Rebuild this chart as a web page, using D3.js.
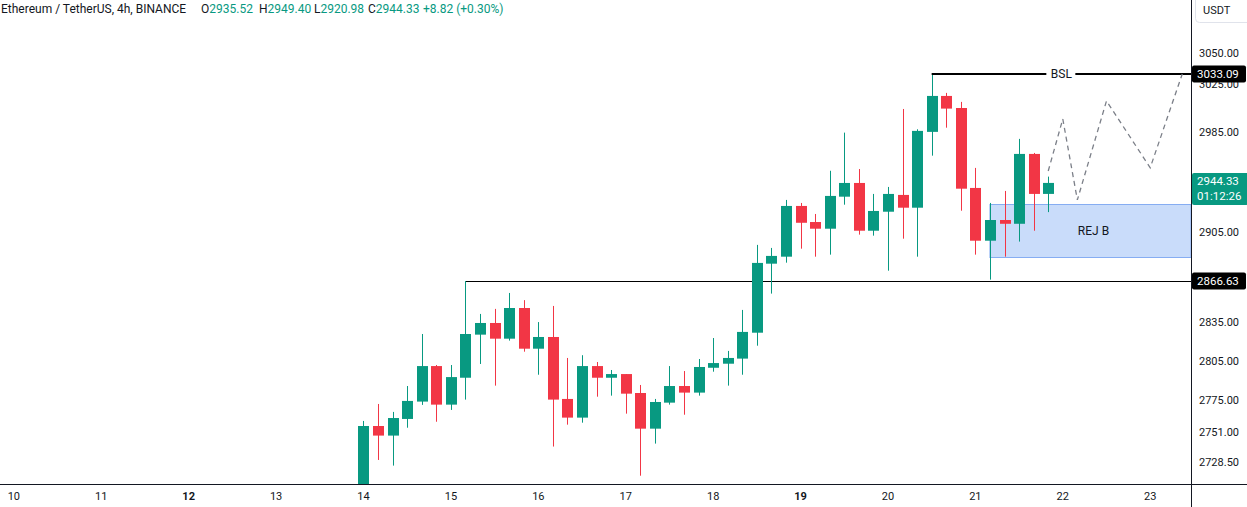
<!DOCTYPE html>
<html>
<head>
<meta charset="utf-8">
<style>
  body { margin: 0; background: #fff; }
  svg { display: block; font-family: Roboto, "Liberation Sans", sans-serif; }
</style>
<script src="https://cdn.jsdelivr.net/npm/d3@7"></script>
</head>
<body>
<svg id="chart"></svg>
<script>
// ETHUSDT 4h candles, starting Feb 14 00:00 UTC
const startTime = Date.UTC(2024, 1, 14, 0, 0);
const opens  = [2700, 2755.5, 2748.3, 2760.8, 2773.9, 2800.9, 2771.6, 2792.0, 2825.0, 2834.0, 2821.9, 2845.6,
                2814.2, 2823.2, 2775.9, 2761.8, 2800.9, 2792.0, 2794.8, 2780.4, 2753.5, 2773.1, 2785.7, 2780.7,
                2799.6, 2802.7, 2806.6, 2826.5, 2880.2, 2885.7, 2925.9, 2913.1, 2907.8, 2933.3, 2944.3, 2906.2,
                2921.3, 2934.7, 2924.5, 2985.6, 3015.0, 3005.1, 2940.3, 2898.3, 2914.7, 2911.7, 2967.7, 2935.52];
const highs  = [2759.3, 2772.1, 2766.1, 2785.7, 2825.5, 2801.7, 2801.7, 2866.63, 2841.0, 2844.9, 2857.3, 2851.7,
                2834.7, 2847.2, 2807.1, 2809.2, 2804.0, 2797.9, 2794.8, 2786.5, 2775.9, 2800.9, 2797.1, 2806.3,
                2822.4, 2812.5, 2844.1, 2895.0, 2892.6, 2930.7, 2928.3, 2919.5, 2954.1, 2985.0, 2955.5, 2935.5,
                2941.1, 3004.3, 2987.7, 3033.09, 3017.5, 3010.1, 2956.4, 2928.3, 2937.9, 2979.9, 2968.5, 2949.40];
const lows   = [2695, 2730.1, 2725.9, 2754.2, 2771.4, 2758.7, 2767.6, 2775.4, 2802.5, 2786.0, 2820.4, 2811.9,
                2794.3, 2740.1, 2756.5, 2758.0, 2777.6, 2778.4, 2764.8, 2718.4, 2742.3, 2771.6, 2764.0, 2778.4,
                2796.6, 2786.0, 2794.3, 2816.5, 2856.8, 2881.0, 2892.0, 2885.7, 2887.3, 2926.9, 2903.1, 2902.3,
                2874.7, 2899.9, 2885.7, 2966.3, 2989.0, 2922.1, 2887.3, 2867.7, 2885.7, 2897.6, 2906.2, 2920.98];
const closes = [2755.5, 2748.3, 2761.5, 2774.4, 2800.9, 2771.6, 2792.5, 2825.5, 2834.0, 2821.9, 2845.6, 2814.2,
                2823.2, 2775.4, 2761.8, 2800.9, 2792.0, 2794.8, 2779.9, 2753.5, 2773.6, 2785.7, 2780.7, 2800.2,
                2803.2, 2807.1, 2827.1, 2880.8, 2886.3, 2925.9, 2912.5, 2907.8, 2933.9, 2944.3, 2906.2, 2921.9,
                2935.5, 2924.5, 2986.4, 3015.0, 3004.6, 2939.7, 2898.3, 2914.7, 2911.7, 2967.7, 2935.51, 2944.33];

const yTicks = [3050, 3025, 2985, 2905, 2835, 2805, 2775, 2751, 2728.5];
const dayTicks = [10, 11, 12, 13, 14, 15, 16, 17, 18, 19, 20, 21, 22, 23];
const boldDays = [12, 19];

// drawings
const bslLevel = 3033.09, bslBar = 39;
const supportLevel = 2866.63, supportBar = 7;
const rejZone = [2927.3, 2885.3], rejBar = 43;
const projBars = [47, 48, 49, 51, 54, 56.2];
const projPrices = [2953.9, 2996.1, 2930.7, 3010.9, 2956.5, 3033.1];

const HOUR = 3600 * 1000;
const barTime = i => new Date(startTime + i * 4 * HOUR);

const width = 1247, height = 507;
const plotW = 1191, plotH = 484;
const green = "#089981", red = "#f23645", ink = "#131722";

const svg = d3.select("#chart").attr("width", width).attr("height", height);

const x = d3.scaleUtc()
    .domain([new Date(Date.UTC(2024, 1, 9, 20, 12)), new Date(Date.UTC(2024, 1, 23, 11, 12))])
    .range([0, plotW]);
const y = d3.scaleLog()
    .domain([supportLevel, bslLevel])
    .range([281, 74]);

svg.append("clipPath").attr("id", "plot")
    .append("rect").attr("width", plotW).attr("height", plotH);

const plot = svg.append("g").attr("clip-path", "url(#plot)");

// REJ B zone
plot.append("rect")
    .attr("x", x(barTime(rejBar)))
    .attr("y", Math.round(y(rejZone[0])) + 0.5)
    .attr("width", plotW - x(barTime(rejBar)))
    .attr("height", Math.round(y(rejZone[1]) - y(rejZone[0])))
    .attr("fill", "#c9dcfa")
    .attr("stroke", "#86adf2")
    .attr("stroke-width", 1);
plot.append("text")
    .attr("x", (x(barTime(rejBar)) + plotW) / 2 + 3)
    .attr("y", (y(rejZone[0]) + y(rejZone[1])) / 2)
    .attr("dy", "0.35em")
    .attr("text-anchor", "middle")
    .attr("font-size", 12)
    .attr("fill", ink)
    .text("REJ B");

// support line
const supY = Math.round(y(supportLevel)) + 0.5;
plot.append("line")
    .attr("x1", x(barTime(supportBar))).attr("x2", plotW)
    .attr("y1", supY).attr("y2", supY)
    .attr("stroke", "#000").attr("stroke-width", 1);

// candles
const candles = opens.map((o, i) => ({ t: barTime(i), o, h: highs[i], l: lows[i], c: closes[i] }));
const candle = plot.append("g").selectAll("g")
    .data(candles)
    .enter().append("g")
    .attr("fill", d => d.c >= d.o ? green : red)
    .attr("stroke", d => d.c >= d.o ? green : red);

candle.append("line")
    .attr("x1", d => Math.round(x(d.t)) + 0.5).attr("x2", d => Math.round(x(d.t)) + 0.5)
    .attr("y1", d => y(d.h)).attr("y2", d => y(d.l))
    .attr("stroke-width", 1);

candle.append("rect")
    .attr("x", d => Math.round(x(d.t)) - 5)
    .attr("y", d => y(Math.max(d.o, d.c)))
    .attr("width", 11)
    .attr("height", d => Math.max(1, y(Math.min(d.o, d.c)) - y(Math.max(d.o, d.c))))
    .attr("stroke", "none");

// BSL line
const bslY = Math.round(y(bslLevel));
const bslText = x(barTime(47.9));
plot.append("line")
    .attr("x1", x(barTime(bslBar))).attr("x2", bslText - 15)
    .attr("y1", bslY).attr("y2", bslY)
    .attr("stroke", "#000").attr("stroke-width", 2);
plot.append("line")
    .attr("x1", bslText + 14).attr("x2", plotW)
    .attr("y1", bslY).attr("y2", bslY)
    .attr("stroke", "#000").attr("stroke-width", 2);
plot.append("text")
    .attr("x", bslText).attr("y", bslY).attr("dy", "0.35em")
    .attr("text-anchor", "middle").attr("font-size", 12).attr("fill", ink)
    .text("BSL");

// projected path
plot.append("path")
    .datum(projBars.map((b, i) => [barTime(b), projPrices[i]]))
    .attr("fill", "none")
    .attr("stroke", "#7b7f88")
    .attr("stroke-width", 1.3)
    .attr("stroke-dasharray", "5,4")
    .attr("d", d3.line().x(d => x(d[0])).y(d => y(d[1])));

// frame lines
svg.append("line").attr("x1", 0).attr("x2", width).attr("y1", plotH + 0.5).attr("y2", plotH + 0.5)
    .attr("stroke", ink).attr("stroke-width", 1);
svg.append("line").attr("x1", plotW + 0.5).attr("x2", plotW + 0.5).attr("y1", 0).attr("y2", height)
    .attr("stroke", ink).attr("stroke-width", 1);

// price axis
const axisG = svg.append("g").attr("font-size", 11).attr("fill", ink);
axisG.selectAll("text.tick")
    .data(yTicks)
    .enter().append("text")
    .attr("class", "tick")
    .attr("x", plotW + 8)
    .attr("y", d => y(d))
    .attr("dy", "0.35em")
    .text(d => d.toFixed(2));

function priceTag(value, fill, lines) {
    const cy = y(value);
    const h = lines.length * 15 + 2;
    const top = lines.length > 1 ? cy - 10 : cy - 8.5;
    svg.append("rect")
        .attr("x", plotW + 1).attr("y", top)
        .attr("width", lines.length > 1 ? width - plotW : 54).attr("height", h)
        .attr("rx", 2).attr("fill", fill);
    lines.forEach((s, k) => {
        svg.append("text")
            .attr("x", plotW + 6).attr("y", top + 8.5 + k * 15)
            .attr("dy", "0.35em").attr("font-size", 11.5).attr("fill", "#fff")
            .text(s);
    });
}
priceTag(bslLevel, "#000", [bslLevel.toFixed(2)]);
priceTag(supportLevel, "#000", [supportLevel.toFixed(2)]);
priceTag(closes[closes.length - 1], green, [closes[closes.length - 1].toFixed(2), "01:12:26"]);

// currency box
svg.append("rect")
    .attr("x", plotW + 4.5).attr("y", -4.5).attr("width", 60).attr("height", 27)
    .attr("rx", 4).attr("fill", "#fff").attr("stroke", "#e0e3eb");
svg.append("text")
    .attr("x", plotW + 12).attr("y", 10).attr("dy", "0.35em")
    .attr("font-size", 11).attr("fill", ink).text("USDT");

// time axis
svg.append("g").selectAll("text")
    .data(dayTicks)
    .enter().append("text")
    .attr("x", d => x(new Date(Date.UTC(2024, 1, d))))
    .attr("y", 496)
    .attr("dy", "0.35em")
    .attr("text-anchor", "middle")
    .attr("font-size", 11)
    .attr("font-weight", d => boldDays.includes(d) ? "bold" : "normal")
    .attr("fill", ink)
    .text(d => d);

// legend header
const last = candles[candles.length - 1];
const prevClose = closes[closes.length - 2];
const change = last.c - prevClose;
const header = svg.append("text").attr("y", 9).attr("dy", "0.35em").attr("font-size", 12);
header.append("tspan").attr("x", 1).attr("fill", ink).text("Ethereum / TetherUS, 4h, BINANCE");
[["O", last.o, 201], ["H", last.h, 259], ["L", last.l, 314], ["C", last.c, 368]].forEach(([k, v, px]) => {
    header.append("tspan").attr("x", px).attr("fill", ink).text(k);
    header.append("tspan").attr("fill", green).text(v.toFixed(2));
});
header.append("tspan").attr("x", 423).attr("fill", green)
    .text(`+${change.toFixed(2)} (+${(change / prevClose * 100).toFixed(2)}%)`);
</script>
</body>
</html>
